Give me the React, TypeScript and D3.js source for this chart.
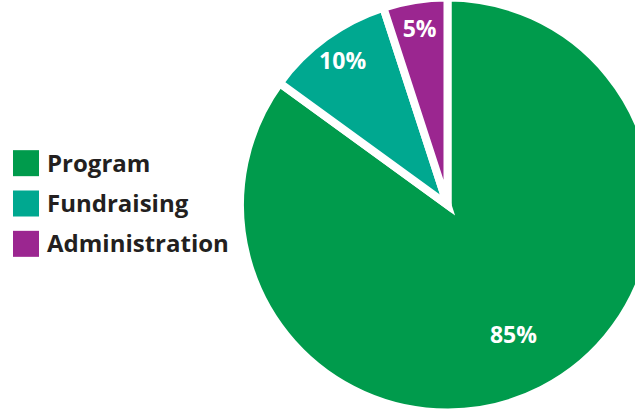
import React, { useEffect, useRef } from "react";
import * as d3 from "d3";

// expense breakdown
const categories = ["Program", "Fundraising", "Administration"];
const shares = [85, 10, 5];
const colors = ["#009b4c", "#00a890", "#9b2690"];

const App = () => {
  const svgRef = useRef<SVGSVGElement | null>(null);
  const w = 635;
  const h = 410;
  const cx = 447.5;
  const cy = 205;
  const r = 207.5;

  useEffect(() => {
    const svg = d3.select(svgRef.current);
    svg.selectAll("*").remove();

    const pie = d3
      .pie<number>()
      .sort(null)
      .value((d) => d);
    const arcs = pie(shares);
    const arc = d3.arc<d3.PieArcDatum<number>>().innerRadius(0).outerRadius(r);

    const g = svg.append("g").attr("transform", `translate(${cx}, ${cy})`);

    g.selectAll("path")
      .data(arcs)
      .enter()
      .append("path")
      .attr("d", arc)
      .attr("fill", (_, i) => colors[i])
      .attr("stroke", "#fff")
      .attr("stroke-width", 8)
      .attr("stroke-linejoin", "miter");

    // labels sit further out in the thin slices
    const labelR = (d: d3.PieArcDatum<number>) =>
      d.endAngle - d.startAngle > Math.PI ? r * 0.7 : r * 0.86;

    g.selectAll("text")
      .data(arcs)
      .enter()
      .append("text")
      .attr("x", (d) => Math.sin((d.startAngle + d.endAngle) / 2) * labelR(d))
      .attr("y", (d) => -Math.cos((d.startAngle + d.endAngle) / 2) * labelR(d))
      .attr("dy", "0.36em")
      .attr("text-anchor", "middle")
      .attr("fill", "#fff")
      .attr("font-family", "'Open Sans', sans-serif")
      .attr("font-weight", 700)
      .attr("font-size", 23)
      .text((d) => `${d.data}%`);

    // legend
    const y = d3
      .scaleBand()
      .domain(categories)
      .range([143, 264])
      .paddingInner(0);

    const legend = svg
      .append("g")
      .selectAll("g")
      .data(categories)
      .enter()
      .append("g")
      .attr("transform", (d) => `translate(13, ${y(d)})`);

    legend
      .append("rect")
      .attr("y", (y.bandwidth() - 26) / 2)
      .attr("width", 26)
      .attr("height", 26)
      .attr("fill", (_, i) => colors[i]);

    legend
      .append("text")
      .attr("x", 34)
      .attr("y", y.bandwidth() / 2)
      .attr("dy", "0.36em")
      .attr("fill", "#231f20")
      .attr("font-family", "'Open Sans', sans-serif")
      .attr("font-weight", 700)
      .attr("font-size", 24)
      .text((d) => d);
  }, []);

  return (
    <div style={{ position: "absolute", left: 0, top: 0 }}>
      <svg ref={svgRef} width={w} height={h} style={{ display: "block", overflow: "hidden" }}></svg>
    </div>
  );
};

export default App;
